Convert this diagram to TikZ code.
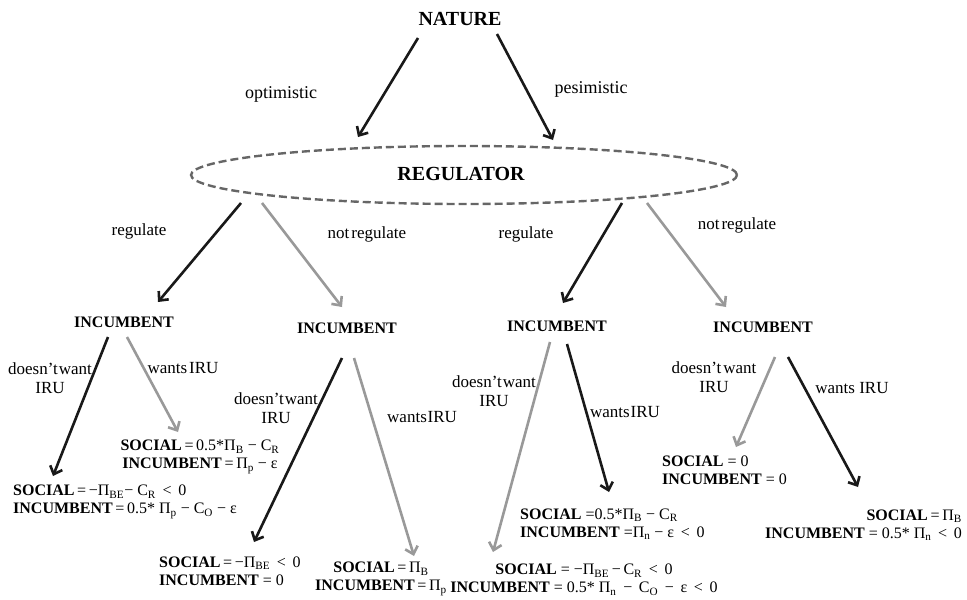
\documentclass[tikz,border=0pt]{standalone}
\usepackage{fontspec}
\setmainfont{Liberation Serif}
\usetikzlibrary{arrows.meta,shapes.geometric}
\newcommand{\sbs}[1]{\textsubscript{#1}}
\begin{document}
\begin{tikzpicture}[x=1pt,y=-1pt,
  blk/.style={draw=black!90, line width=2.6pt, -{Straight Barb[length=7pt,width=13pt]}},
  gry/.style={draw=black!40, line width=2.6pt, -{Straight Barb[length=7pt,width=13pt]}},
  lbl/.style={inner sep=0pt, font=\fontsize{17}{19}\selectfont, align=center},
  head/.style={inner sep=0pt, font=\fontsize{20}{22}\selectfont\bfseries},
  inc/.style={inner sep=0pt, font=\fontsize{16}{17}\selectfont\bfseries},
  pay/.style={inner sep=0pt, font=\fontsize{16}{18}\selectfont}
]
\useasboundingbox (0,0) rectangle (967,600);
% top
\node[head] (nature) at (460,19) {NATURE};
\node[ellipse, draw=black!60, dashed, dash pattern=on 8pt off 4pt, line width=2.4pt,
      minimum width=546pt, minimum height=58pt, inner sep=0pt] (reg) at (464,175) {};
\node[head] (regt) at (461,174) {REGULATOR};
\node[lbl, font=\fontsize{18}{20}\selectfont] (opt) at (281,94) {optimistic};
\node[lbl, font=\fontsize{18}{20}\selectfont] (pes) at (591,89) {pesimistic};
\coordinate (nL) at (418,38); \coordinate (rL) at (358,137);
\coordinate (nR) at (497,34); \coordinate (rR) at (553,140);
\draw[blk] (nL) -- (rL);
\draw[blk] (nR) -- (rR);
% incumbents
\node[inc] (inc1) at (124,322) {INCUMBENT};
\node[inc] (inc2) at (347,328) {INCUMBENT};
\node[inc] (inc3) at (557,326) {INCUMBENT};
\node[inc] (inc4) at (763,327) {INCUMBENT};
\coordinate (r1s) at (241,203); \coordinate (r1e) at (158,302);
\coordinate (r2s) at (262,203); \coordinate (r2e) at (342,307);
\coordinate (r3s) at (622,203); \coordinate (r3e) at (563,303);
\coordinate (r4s) at (647,203); \coordinate (r4e) at (726,307);
\draw[blk] (r1s) -- (r1e);
\draw[gry] (r2s) -- (r2e);
\draw[blk] (r3s) -- (r3e);
\draw[gry] (r4s) -- (r4e);
\node[lbl] (lr1) at (139,231) {regulate};
\node[lbl] (lr2) at (367,234) {not\hspace{0.12em}regulate};
\node[lbl] (lr3) at (526,234) {regulate};
\node[lbl] (lr4) at (737,225) {not\hspace{0.12em}regulate};
% branch 1
\coordinate (a1s) at (108,337); \coordinate (a1e) at (53,476);
\coordinate (b1s) at (127,337); \coordinate (b1e) at (178,432);
\draw[blk] (a1s) -- (a1e);
\draw[gry] (b1s) -- (b1e);
\node[lbl] (la1) at (50,378) {doesn’t\hspace{0.05em}want\\IRU};
\node[lbl] (lb1) at (183,368) {wants\hspace{0.12em}IRU};
% branch 2
\coordinate (a2s) at (342,358); \coordinate (a2e) at (254,542);
\coordinate (b2s) at (354,358); \coordinate (b2e) at (414,556);
\draw[blk] (a2s) -- (a2e);
\draw[gry] (b2s) -- (b2e);
\node[lbl] (la2) at (276,408) {doesn’t\hspace{0.05em}want\\IRU};
\node[lbl, anchor=west] (lb2) at (387,417) {wants\hspace{0.05em}IRU};
% branch 3
\coordinate (a3s) at (550,342); \coordinate (a3e) at (493,552);
\coordinate (b3s) at (567,344); \coordinate (b3e) at (609,492);
\draw[gry] (a3s) -- (a3e);
\draw[blk] (b3s) -- (b3e);
\node[lbl] (la3) at (494,391) {doesn’t\hspace{0.05em}want\\IRU};
\node[lbl] (lb3) at (625,412) {wants\hspace{0.05em}IRU};
% branch 4
\coordinate (a4s) at (775,357); \coordinate (a4e) at (736,447);
\coordinate (b4s) at (788,357); \coordinate (b4e) at (858,487);
\draw[gry] (a4s) -- (a4e);
\draw[blk] (b4s) -- (b4e);
\node[lbl] (la4) at (714,377) {doesn’t\hspace{0.12em}want\\IRU};
\node[lbl] (lb4) at (852,388) {wants IRU};
% payoffs
\node[pay, anchor=west, align=left] (p1a) at (13,502)
  {\textbf{SOCIAL}\,=\,−Π\sbs{BE}− C\sbs{R} \,<\, 0\\\textbf{INCUMBENT}\,=\,0.5* Π\sbs{p} − C\sbs{O} − ε};
\node[pay, align=center] (p1b) at (200,457)
  {\textbf{SOCIAL}\,=\,0.5*Π\sbs{B} − C\sbs{R}\\\textbf{INCUMBENT}\,=\,Π\sbs{p} − ε};
\node[pay, anchor=west, align=left] (p2a) at (159,571)
  {\textbf{SOCIAL}\,=\,−Π\sbs{BE} \,<\, 0\\\textbf{INCUMBENT} = 0};
\node[pay, align=center] (p2b) at (381,579)
  {\textbf{SOCIAL}\,=\,Π\sbs{B}\\\textbf{INCUMBENT}\,=\,Π\sbs{p}};
\node[pay, anchor=west, align=left] (p3b) at (520,524)
  {\textbf{SOCIAL} =0.5*Π\sbs{B} − C\sbs{R}\\\textbf{INCUMBENT} =Π\sbs{n} − ε \,<\, 0};
\node[pay, align=center] (p3a) at (584,580)
  {\textbf{SOCIAL} = −Π\sbs{BE}\,−\,C\sbs{R}\, <\, 0\\\textbf{INCUMBENT} = 0.5* Π\sbs{n}\,\ −\ \,C\sbs{O}\,\ −\ \,ε\, <\, 0};
\node[pay, anchor=west, align=left] (p4a) at (662,470)
  {\textbf{SOCIAL} = 0\\\textbf{INCUMBENT} = 0};
\node[pay, anchor=east, align=right] (p4b) at (962,525)
  {\textbf{SOCIAL}\,=\,Π\sbs{B}\\\textbf{INCUMBENT} = 0.5* Π\sbs{n} \,<\, 0};
\end{tikzpicture}
\end{document}
